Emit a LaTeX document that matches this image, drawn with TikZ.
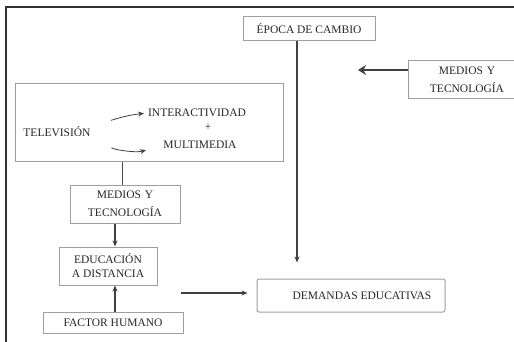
\documentclass[tikz,border=0pt]{standalone}
\usepackage{fontspec}
\setmainfont{Liberation Serif}
\usetikzlibrary{arrows.meta}
\tikzset{
  box/.style={draw=gray!75, line width=1pt, inner sep=0pt, align=center,
    text=black!85, font=\fontsize{11.5}{18}\selectfont},
  label/.style={inner sep=0pt, text=black!85, font=\fontsize{11.5}{13}\selectfont},
  link/.style={draw=black!75, line width=1.2pt, -{Stealth[length=6pt,width=5pt]}}
}
\begin{document}
\begin{tikzpicture}[x=1pt,y=-1pt]
  \useasboundingbox (0,0) rectangle (514,342);
  \draw[black!80, line width=1.3pt] (6,342) -- (6,7) -- (514,7);
  \node[box, minimum width=132pt, minimum height=24pt] (epoca) at (309,29) {ÉPOCA DE CAMBIO};
  \node[box, minimum width=106pt, minimum height=38pt, text width=100pt] (mediosA) at (461,80) {\hspace*{12pt}MEDIOS Y\\\hspace*{12pt}TECNOLOGÍA};
  \coordinate (tip) at (358,70);
  \node[box, minimum width=268pt, minimum height=78pt] (tv) at (149,123) {};
  \node[label] (tele) at (57,132) {TELEVISIÓN};
  \node[label] (inter) at (197,113) {INTERACTIVIDAD};
  \node[label] (mas) at (208,127) {+};
  \node[label] (multi) at (200,145) {MULTIMEDIA};
  \node[box, minimum width=110pt, minimum height=38pt, text width=104pt] (mediosB) at (125,204) {MEDIOS Y\\TECNOLOGÍA};
  \node[box, minimum width=98pt, minimum height=38pt, font=\fontsize{11.5}{14}\selectfont] (edu) at (108,266) {EDUCACIÓN\\A DISTANCIA};
  \node[box, minimum width=140pt, minimum height=21pt] (factor) at (113,322.5) {FACTOR HUMANO};
  \node[box, rounded corners=2pt, minimum width=188pt, minimum height=33pt] (demandas) at (351,295.5) {\hspace*{22pt}DEMANDAS EDUCATIVAS};
  \draw[link, line width=1.6pt, shorten >=16pt] ([xshift=-12pt]epoca.south) -- ([xshift=-12pt]epoca.south |- demandas.north);
  \draw[link, line width=2.6pt, -{Stealth[length=8pt,width=10pt]}] ([yshift=10pt]mediosA.west) -- (tip);
  \draw[link, line width=0.8pt, shorten <=25pt, shorten >=4pt] ([yshift=-3pt]tele.east) to[bend left=15] (inter.west);
  \draw[link, line width=0.8pt, shorten <=25pt, shorten >=18pt] ([yshift=-2pt]tele.east) to[bend right=25] (multi.west);
  \draw[black!70, line width=0.8pt] ([xshift=-3pt]mediosB.north |- tv.south) -- ([xshift=-3pt]mediosB.north);
  \draw[link] ([xshift=7pt]edu.north |- mediosB.south) -- ([xshift=7pt]edu.north);
  \draw[link] ([xshift=2pt]factor.north) -- ([xshift=2pt]factor.north |- edu.south);
  \draw[link, shorten <=23pt, shorten >=9pt] ([yshift=2.5pt]edu.east |- demandas.west) -- ([yshift=2.5pt]demandas.west);
\end{tikzpicture}
\end{document}
